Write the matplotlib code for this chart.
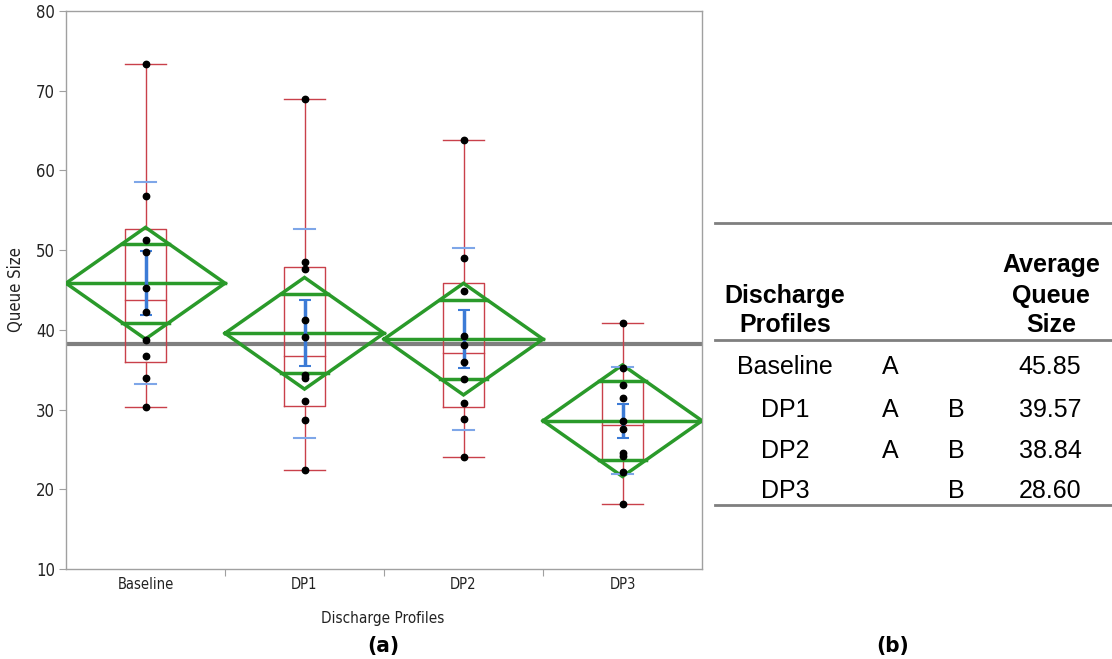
import numpy as np
import matplotlib
matplotlib.use('Agg')
import matplotlib.pyplot as plt

# data
profiles = ['Baseline', 'DP1', 'DP2', 'DP3']
baseline = [73.3, 56.8, 51.3, 49.8, 45.3, 42.3, 38.7, 36.7, 33.9, 30.3]
dp1 = [68.9, 48.5, 47.6, 41.2, 39.1, 34.3, 34.0, 31.1, 28.7, 22.4]
dp2 = [63.8, 49.0, 44.9, 39.2, 38.1, 36.0, 33.8, 30.8, 28.8, 24.1]
dp3 = [40.9, 35.2, 33.1, 31.4, 28.6, 27.6, 24.6, 24.2, 22.2, 18.2]
groups = [baseline, dp1, dp2, dp3]

avg_queue = [45.85, 39.57, 38.84, 28.60]
letter_a = ['A', 'A', 'A', '']
letter_b = ['', 'B', 'B', 'B']
ci_half = 7.0  # half height of the means diamonds

W, H = 1112, 659
fig = plt.figure(figsize=(W / 100, H / 100), dpi=100)
ax = fig.add_axes([66 / W, 1 - 569 / H, 636 / W, 558 / H])

cond = dict(family='DejaVu Sans', stretch='condensed')
red = '#c9404a'
green = '#2a9a2a'
grey = '#a0a0a0'
txt = '#222222'

grand = np.mean(np.concatenate(groups))
ax.axhline(grand, color='#7f7f7f', lw=3, zorder=1)

bw = 0.13
for i, (vals, m) in enumerate(zip(groups, avg_queue)):
    v = np.array(vals)
    c = i + 0.5
    q1, med, q3 = np.percentile(v, [25, 50, 75], method='weibull')
    # box plot
    ax.plot([c - bw, c + bw, c + bw, c - bw, c - bw], [q1, q1, q3, q3, q1], color=red, lw=1, zorder=2)
    ax.plot([c - bw, c + bw], [med, med], color=red, lw=1, zorder=2)
    ax.plot([c, c], [q3, v.max()], color=red, lw=1, zorder=2)
    ax.plot([c, c], [q1, v.min()], color=red, lw=1, zorder=2)
    ax.plot([c - bw, c + bw], [v.max(), v.max()], color=red, lw=1, zorder=2)
    ax.plot([c - bw, c + bw], [v.min(), v.min()], color=red, lw=1, zorder=2)

    # means diamond
    ax.plot([i, c, i + 1, c, i], [m, m + ci_half, m, m - ci_half, m], color=green, lw=2.5, zorder=3,
            solid_joinstyle='miter')
    ax.plot([i, i + 1], [m, m], color=green, lw=2.5, zorder=3)
    d = ci_half / np.sqrt(2)
    hw = 0.5 * (1 - 1 / np.sqrt(2))
    for y in (m + d, m - d):
        ax.plot([c - hw, c + hw], [y, y], color=green, lw=2.5, zorder=3)

    # std dev and std error
    sd = v.std(ddof=1)
    se = sd / np.sqrt(len(v))
    for y in (m + sd, m - sd):
        ax.plot([c - 0.065, c + 0.065], [y, y], color='#7ea6e8', lw=1.5, zorder=4)
    ax.errorbar([c], [m], yerr=[se], color='#3c7bd6', lw=2.5, capsize=4, capthick=1.5, zorder=4)

    ax.plot([c] * len(v), v, 'o', color='black', ms=4.6, zorder=5)

ax.set_xlim(0, 4)
ax.set_ylim(10, 80)
ax.set_yticks(range(10, 81, 10))
ax.set_xticks([1, 2, 3])
ax.set_xticklabels([])
ax.set_xticks([0.5, 1.5, 2.5, 3.5], minor=True)
ax.set_xticklabels(profiles, minor=True, color=txt, size=10.5, **cond)
ax.tick_params(axis='x', which='minor', length=0, pad=6)
ax.tick_params(axis='x', which='major', length=5, color=grey)
ax.tick_params(axis='y', length=5, color=grey, labelcolor=txt, pad=3)
for lab in ax.get_yticklabels():
    lab.set(size=12, **cond)
for s in ax.spines.values():
    s.set_color(grey)
    s.set_linewidth(1)

ax.set_ylabel('Queue Size', color=txt, labelpad=8, size=12, **cond)
fig.text(383 / W, 1 - 618 / H, 'Discharge Profiles', color=txt, ha='center', va='center', size=11, **cond)
fig.text(383 / W, 1 - 646 / H, '(a)', fontsize=16, fontweight='bold', ha='center', va='center', **cond)
fig.text(893 / W, 1 - 646 / H, '(b)', fontsize=16, fontweight='bold', ha='center', va='center', **cond)

# table (b)
tab = fig.add_axes([0, 0, 1, 1], zorder=-1)
tab.set_xlim(0, W)
tab.set_ylim(H, 0)
tab.axis('off')
for y in (222.5, 339.5, 504.5):
    tab.plot([715, W], [y, y], color='#7f7f7f', lw=2)
tf = dict(family='Liberation Sans', fontsize=18, ha='center', va='center')
tab.text(785, 296, 'Discharge', fontweight='bold', **tf)
tab.text(785, 325, 'Profiles', fontweight='bold', **tf)
tab.text(1051, 265, 'Average', fontweight='bold', **tf)
tab.text(1051, 296, 'Queue', fontweight='bold', **tf)
tab.text(1051, 325, 'Size', fontweight='bold', **tf)
row_y = [367, 410, 451, 491]
for y, p, a, b, m in zip(row_y, profiles, letter_a, letter_b, avg_queue):
    tab.text(785, y, p, **tf)
    tab.text(890, y, a, **tf)
    tab.text(956, y, b, **tf)
    tab.text(1050, y, '%.2f' % m, **tf)

fig.savefig('out.png', dpi=100)
